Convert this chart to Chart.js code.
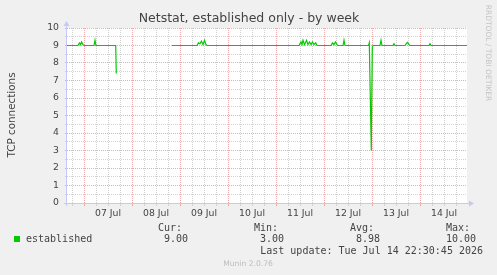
<!DOCTYPE html>
<html lang="en">
  <head>
    <meta charset="UTF-8" />
    <script src="https://cdn.jsdelivr.net/npm/chart.js"></script>
    <title>Netstat, established only - by week</title>
    <style>
      html, body { margin: 0; padding: 0; background: #f0f0f0; }
      canvas { display: block; }
    </style>
  </head>
  <body>
    <canvas id="myChart" width="497" height="275"></canvas>

    <script>
      // hours since 07 Jul 00:00
      const horas = [
        -8.5, -3, -2.25, -1.75, -1.25, -0.5, 0, 5, 5.5, 6, 15.85, 16.15, 17,
        44, 56.5, 57.25, 58, 58.75, 59.5, 60.25, 61, 61.5,
        107.5, 108.5, 109, 109.5, 110.25, 111.25, 112, 112.75, 113.5, 114.25, 115, 115.85, 116.5,
        123.5, 124.25, 125, 125.75, 126.5, 127, 129.5, 130, 130.5,
        142.25, 142.65, 143.65, 144.15, 144.5, 148, 148.5, 149,
        154.5, 155, 155.5, 160.5, 161.25, 161.75, 162.5, 163,
        172.5, 173, 173.5, 191.5
      ];
      const established = [
        9, 9, 9.15, 9.05, 9.2, 9.05, 9, 9, 9.3, 9, 9, 7.4, null,
        9, 9, 9.15, 9.1, 9.25, 9.05, 9.3, 9.05, 9,
        9, 9.2, 9.05, 9.3, 9.05, 9.3, 9.05, 9.2, 9.05, 9.2, 9.05, 9.15, 9,
        9, 9.15, 9.05, 9.2, 9.05, 9, 9, 9.3, 9,
        9, 9.15, 3.0, 8.9, 9, 9, 9.3, 9,
        9, 9.1, 9, 9, 9.12, 9.18, 9.05, 9,
        9, 9.1, 9, 9
      ];
      const diasLabels = ["07 Jul", "08 Jul", "09 Jul", "10 Jul", "11 Jul", "12 Jul", "13 Jul", "14 Jul"];
      const legendaTitulos = ["Cur:", "Min:", "Avg:", "Max:"];
      const legendaValores = ["9.00", "3.00", "8.98", "10.00"];

      const pontos = horas.map(function (h, i) {
        return { x: h, y: established[i] };
      });

      const fundo = {
        id: "fundo",
        beforeDraw: function (chart) {
          const ctx = chart.ctx;
          const a = chart.chartArea;
          ctx.save();
          ctx.fillStyle = "#f0f0f0";
          ctx.fillRect(0, 0, chart.width, chart.height);
          ctx.fillStyle = "#ffffff";
          ctx.fillRect(a.left, a.top, a.right - a.left, a.bottom - a.top);
          ctx.restore();
        },
      };

      const textos = {
        id: "textos",
        afterDraw: function (chart) {
          const ctx = chart.ctx;
          const a = chart.chartArea;
          ctx.save();

          // eixos com setas
          ctx.strokeStyle = "#c8c8f8";
          ctx.fillStyle = "#c8c8f8";
          ctx.lineWidth = 1;
          ctx.beginPath();
          ctx.moveTo(a.left - 0.5, a.bottom + 3);
          ctx.lineTo(a.left - 0.5, a.top - 4);
          ctx.moveTo(a.left - 3, a.bottom + 0.5);
          ctx.lineTo(a.right + 4, a.bottom + 0.5);
          ctx.stroke();
          ctx.beginPath();
          ctx.moveTo(a.left - 3.5, a.top - 2);
          ctx.lineTo(a.left + 2.5, a.top - 2);
          ctx.lineTo(a.left - 0.5, a.top - 7);
          ctx.fill();
          ctx.beginPath();
          ctx.moveTo(a.right + 2, a.bottom - 2.5);
          ctx.lineTo(a.right + 2, a.bottom + 3.5);
          ctx.lineTo(a.right + 7, a.bottom + 0.5);
          ctx.fill();

          ctx.fillStyle = "#444";
          ctx.textAlign = "center";
          ctx.textBaseline = "middle";
          ctx.font = "12.5px 'DejaVu Sans'";
          ctx.fillText("Netstat, established only - by week", 249, 19);

          ctx.save();
          ctx.translate(12, 115);
          ctx.rotate(-Math.PI / 2);
          ctx.font = "10.4px 'DejaVu Sans'";
          ctx.fillText("TCP connections", 0, 0);
          ctx.restore();

          ctx.save();
          ctx.translate(488, 53);
          ctx.rotate(Math.PI / 2);
          ctx.fillStyle = "#c4c4c4";
          ctx.font = "7.5px 'DejaVu Sans'";
          ctx.fillText("RRDTOOL / TOBI OETIKER", 0, 0);
          ctx.restore();

          // legenda
          ctx.fillStyle = "#00cc00";
          ctx.fillRect(14, 236, 6, 6);
          ctx.fillStyle = "#444";
          ctx.font = "10px 'DejaVu Sans Mono'";
          ctx.textAlign = "left";
          ctx.fillText("established", 26, 239);
          const colX = [182, 278, 374, 470];
          ctx.textAlign = "right";
          for (var i = 0; i < 4; i++) {
            ctx.fillText(legendaTitulos[i], colX[i], 228);
            ctx.fillText(legendaValores[i], colX[i] + 6, 239);
          }
          ctx.fillText("Last update: Tue Jul 14 22:30:45 2026", 483, 251);

          ctx.textAlign = "center";
          ctx.fillStyle = "#bdbdbd";
          ctx.font = "7.6px 'DejaVu Sans'";
          ctx.fillText("Munin 2.0.76", 248, 264);
          ctx.restore();
        },
      };

      const data = {
        datasets: [
          {
            label: "established",
            data: pontos,
            borderColor: "#00cc00",
            backgroundColor: "#00cc00",
            borderWidth: 1.2,
            pointRadius: 0,
            tension: 0,
            spanGaps: false,
          },
        ],
      };

      function corGrade(c) {
        return c.tick && c.tick.value % 24 === 0 ? "#ecaaaa" : "#d2d2d2";
      }

      const config = {
        type: "line",
        data: data,
        options: {
          responsive: false,
          animation: false,
          layout: { padding: { left: 0, top: 28, right: 30, bottom: 0 } },
          plugins: { legend: { display: false }, tooltip: { enabled: false }, title: { display: false } },
          scales: {
            x: {
              type: "linear",
              min: -8.5,
              max: 191.5,
              afterFit: function (scale) {
                scale.height = 72;
              },
              border: { display: false, dash: [1, 1] },
              grid: {
                drawTicks: true,
                tickLength: 3,
                color: corGrade,
              },
              ticks: {
                stepSize: 6,
                includeBounds: false,
                autoSkip: false,
                maxRotation: 0,
                padding: 2,
                color: "#444",
                font: { family: "DejaVu Sans", size: 9.3 },
                callback: function (v) {
                  if ((v - 12) % 24 === 0) return diasLabels[(v - 12) / 24];
                  return "";
                },
              },
            },
            y: {
              min: 0,
              max: 10,
              afterFit: function (scale) {
                scale.width = 67;
              },
              border: { display: false, dash: [1, 1] },
              grid: {
                drawTicks: true,
                tickLength: 2,
                color: function (c) {
                  return c.tick && Number.isInteger(c.tick.value) ? "#ecaaaa" : "#d2d2d2";
                },
              },
              ticks: {
                stepSize: 0.5,
                autoSkip: false,
                padding: 6,
                color: "#444",
                font: { family: "DejaVu Sans", size: 9.3 },
                callback: function (v) {
                  return Number.isInteger(v) ? v : "";
                },
              },
            },
          },
        },
        plugins: [fundo, textos],
      };

      const myChart = new Chart(document.getElementById("myChart"), config);
    </script>
  </body>
</html>
